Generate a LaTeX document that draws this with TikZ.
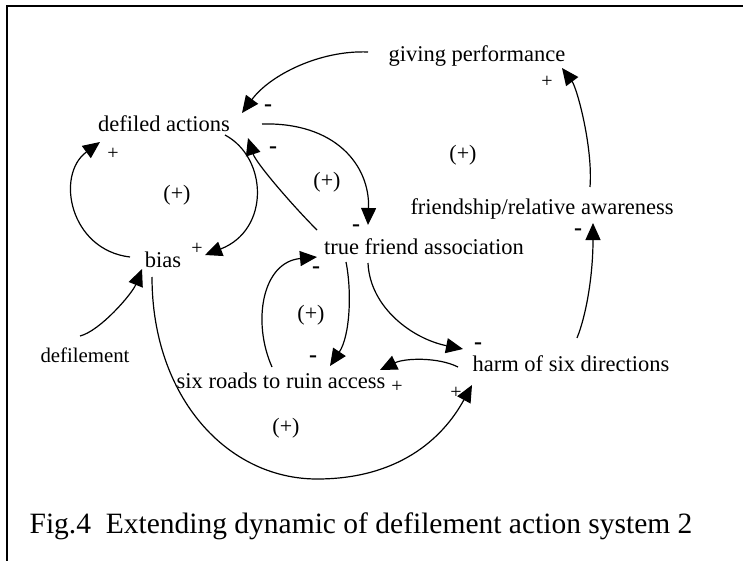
\documentclass[tikz,border=0pt]{standalone}
\usepackage{fontspec}
\setmainfont{Liberation Serif}
\usetikzlibrary{arrows.meta}

\tikzset{
  var/.style={font=\fontsize{11.25}{13}\selectfont, inner sep=0pt, anchor=base},
  loopsign/.style={font=\fontsize{11}{13}\selectfont, inner sep=0pt},
  pos sign/.style={font=\fontsize{10}{12}\selectfont, inner sep=0pt},
  neg sign/.style={font=\bfseries\fontsize{12}{12}\selectfont, inner sep=0pt},
}

\begin{document}
\begin{tikzpicture}[x=0.5pt,y=-0.5pt,line width=0.6pt,>={Triangle[length=8.5pt,width=7.5pt]}]
            \useasboundingbox (0,0) rectangle (743,561);
            \draw[line width=1.3pt] (743,6) -- (7,6) -- (7,561);

            \node[var] (gp) at (477,62) {giving performance};
            \node[var] (da) at (164,132) {defiled actions};
            \node[var] (fra) at (542,214) {friendship/relative awareness};
            \node[var] (bias) at (163,267) {bias};
            \node[var] (tfa) at (424,254) {true friend association};
            \node[var,font=\fontsize{10.4}{12}\selectfont] (def) at (85,362) {defilement};
            \node[var] (srr) at (281,388) {six roads to ruin access};
            \node[var] (harm) at (571,371) {harm of six directions};
            \node[inner sep=0pt,anchor=base west,font=\fontsize{14.75}{17}\selectfont] (caption) at (29,533) {Fig.4~~Extending dynamic of defilement action system 2};

            % loop polarities
            \node[loopsign] (loop1) at (177,195) {(+)};
            \node[loopsign] (loop2) at (327,182) {(+)};
            \node[loopsign] (loop3) at (463,155) {(+)};
            \node[loopsign] (loop4) at (311,315) {(+)};
            \node[loopsign] (loop5) at (286,428) {(+)};

            % link polarities
            \node[neg sign] (gpda) at (268,108) {-};
            \node[neg sign] (datfa) at (356,228) {-};
            \node[neg sign] (tfada) at (273,150) {-};
            \node[pos sign] (dabias) at (197,249) {+};
            \node[pos sign] (biasda) at (113,154) {+};
            \node[pos sign] (biasharm) at (456,393) {+};
            \node[neg sign] (tfasrr) at (313,359) {-};
            \node[neg sign] (srrtfa) at (316,270) {-};
            \node[neg sign] (tfaharm) at (478,346) {-};
            \node[pos sign] (harmsrr) at (397,387) {+};
            \node[neg sign] (harmfra) at (578,232) {-};
            \node[pos sign] (fragp) at (547,82) {+};

            \coordinate (dip) at (317,479);

            \draw[->] ([shift={(-109,-10)}]gp.base) .. controls +(-48,-2) and +(28,-38) .. ([shift={(78,-19)}]da.base);
            \draw[->] ([shift={(98,-8)}]da.base) .. controls +(73,-2) and +(2,-60) .. ([shift={(-56,-29)}]tfa.base);
            \draw[->] ([shift={(-107,-24)}]tfa.base) .. controls +(-25,-25) and +(8,25) .. ([shift={(84,6)}]da.base);
            \draw[->] ([shift={(61,3)}]da.base) .. controls +(43,23) and +(65,-25) .. ([shift={(42,-12)}]bias.base);
            \draw[->] ([shift={(-33,-10)}]bias.base) .. controls +(-60,-7) and +(-45,33) .. ([shift={(-64,10)}]da.base);
            \draw[->] ([shift={(-5,-26)}]def.base) .. controls +(20,-5) and +(-10,25) .. ([shift={(-21,2)}]bias.base);
            \draw[->] ([shift={(-11,10)}]bias.base) .. controls +(0,120) and +(-90,0) .. (dip)
                .. controls +(80,0) and +(-30,55) .. ([shift={(-99,14)}]harm.base);
            \draw[->] ([shift={(-78,8)}]tfa.base) .. controls +(6,30) and +(20,-30) .. ([shift={(49,-22)}]srr.base);
            \draw[->] ([shift={(-9,-21)}]srr.base) .. controls +(-20,-45) and +(-55,5) .. ([shift={(-107,3)}]tfa.base);
            \draw[->] ([shift={(-56,9)}]tfa.base) .. controls +(2,45) and +(-50,-10) .. ([shift={(-108,-22)}]harm.base);
            \draw[->] ([shift={(-113,-4)}]harm.base) .. controls +(-20,-10) and +(25,-12) .. ([shift={(99,-18)}]srr.base);
            \draw[->] ([shift={(6,-33)}]harm.base) .. controls +(10,-25) and +(0,50) .. ([shift={(51,9)}]fra.base);
            \draw[->] ([shift={(48,-27)}]fra.base) .. controls +(3,-40) and +(15,20) .. ([shift={(85,6)}]gp.base);
        \end{tikzpicture}
\end{document}
